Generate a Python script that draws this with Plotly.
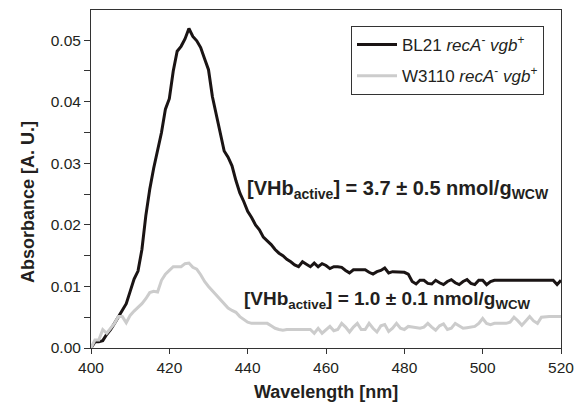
import plotly.graph_objects as go

wavelength = list(range(400, 521))

bl21 = [
    0.0000, 0.0010, 0.0010, 0.0012, 0.0022, 0.0030, 0.0040, 0.0051, 0.0060, 0.0072,  # 400-409
    0.0092, 0.0112, 0.0125, 0.0160, 0.0215, 0.0258, 0.0292, 0.0320, 0.0350, 0.0388,  # 410-419
    0.0405, 0.0450, 0.0482, 0.0490, 0.0502, 0.0519, 0.0506, 0.0499, 0.0488, 0.0470,  # 420-429
    0.0452, 0.0408, 0.0380, 0.0352, 0.0320, 0.0310, 0.0296, 0.0272, 0.0252, 0.0238,  # 430-439
    0.0222, 0.0212, 0.0200, 0.0192, 0.0180, 0.0174, 0.0168, 0.0160, 0.0154, 0.0150,  # 440-449
    0.0144, 0.0140, 0.0135, 0.0132, 0.0140, 0.0136, 0.0132, 0.0138, 0.0132, 0.0137,  # 450-459
    0.0134, 0.0129, 0.0132, 0.0132, 0.0131, 0.0126, 0.0122, 0.0127, 0.0127, 0.0127,  # 460-469
    0.0127, 0.0123, 0.0120, 0.0124, 0.0126, 0.0130, 0.0122, 0.0124, 0.0124, 0.0124,  # 470-479
    0.0123, 0.0120, 0.0108, 0.0104, 0.0110, 0.0110, 0.0105, 0.0104, 0.0110, 0.0106,  # 480-489
    0.0103, 0.0108, 0.0111, 0.0106, 0.0103, 0.0108, 0.0111, 0.0105, 0.0103, 0.0110,  # 490-499
    0.0110, 0.0103, 0.0108, 0.0110, 0.0110, 0.0110, 0.0110, 0.0110, 0.0110, 0.0110,  # 500-509
    0.0110, 0.0110, 0.0110, 0.0110, 0.0110, 0.0110, 0.0110, 0.0110, 0.0110, 0.0103,  # 510-519
    0.0110,                                                                          # 520
]

w3110 = [
    0.0000, 0.0013, 0.0013, 0.0030, 0.0024, 0.0032, 0.0040, 0.0051, 0.0051, 0.0041,  # 400-409
    0.0053, 0.0060, 0.0066, 0.0072, 0.0080, 0.0090, 0.0092, 0.0091, 0.0110, 0.0120,  # 410-419
    0.0126, 0.0132, 0.0132, 0.0132, 0.0137, 0.0138, 0.0131, 0.0128, 0.0119, 0.0108,  # 420-429
    0.0100, 0.0093, 0.0087, 0.0079, 0.0072, 0.0065, 0.0061, 0.0058, 0.0051, 0.0046,  # 430-439
    0.0042, 0.0040, 0.0040, 0.0040, 0.0040, 0.0040, 0.0036, 0.0032, 0.0030, 0.0029,  # 440-449
    0.0030, 0.0030, 0.0030, 0.0030, 0.0030, 0.0030, 0.0030, 0.0024, 0.0032, 0.0024,  # 450-459
    0.0030, 0.0035, 0.0028, 0.0030, 0.0040, 0.0034, 0.0026, 0.0034, 0.0040, 0.0030,  # 460-469
    0.0030, 0.0040, 0.0032, 0.0026, 0.0036, 0.0038, 0.0027, 0.0032, 0.0040, 0.0032,  # 470-479
    0.0030, 0.0035, 0.0034, 0.0033, 0.0032, 0.0034, 0.0040, 0.0034, 0.0029, 0.0036,  # 480-489
    0.0039, 0.0030, 0.0032, 0.0040, 0.0036, 0.0032, 0.0033, 0.0034, 0.0035, 0.0040,  # 490-499
    0.0048, 0.0040, 0.0038, 0.0040, 0.0040, 0.0040, 0.0040, 0.0042, 0.0050, 0.0044,  # 500-509
    0.0037, 0.0044, 0.0051, 0.0044, 0.0040, 0.0050, 0.0051, 0.0051, 0.0051, 0.0051,  # 510-519
    0.0051,                                                                          # 520
]

series_names = [
    "BL21 <i>recA</i><sup>-</sup> <i>vgb</i><sup>+</sup>",
    "W3110 <i>recA</i><sup>-</sup> <i>vgb</i><sup>+</sup>",
]
annot_texts = [
    "<b>[VHb<sub>active</sub>] = 3.7 ± 0.5 nmol/g<sub>WCW</sub></b>",
    "<b>[VHb<sub>active</sub>] = 1.0 ± 0.1 nmol/g<sub>WCW</sub></b>",
]
annot_pos = [(478.3, 0.0258), (475.8, 0.0078)]
annot_sizes = [20, 19]

x_ticks = [400, 420, 440, 460, 480, 500, 520]
y_ticks = [0.00, 0.01, 0.02, 0.03, 0.04, 0.05]
y_right_ticks = [0.005, 0.015, 0.025, 0.035, 0.045]

FONT = "Liberation Sans, Arial, Helvetica, sans-serif"
TXT = "#231f20"
AX = "#333333"

L, R, T, B = 91, 13, 10, 66
W, H = 574, 414
pw, ph = W - L - R, H - T - B


def px_x(x):
    return (x - L) / pw


def px_y(y):
    return (H - B - y) / ph


fig = go.Figure()
fig.add_trace(go.Scatter(x=wavelength, y=bl21, mode="lines", name=series_names[0],
                         legendgroup="a", line=dict(color="#1a1414", width=3)))
fig.add_trace(go.Scatter(x=wavelength, y=w3110, mode="lines", name=series_names[1],
                         legendgroup="b", line=dict(color="#cccccc", width=3)))

for (ax, ay), t, s in zip(annot_pos, annot_texts, annot_sizes):
    fig.add_annotation(x=ax, y=ay, text=t, showarrow=False, xref="x", yref="y",
                       xanchor="center", yanchor="middle",
                       font=dict(family=FONT, size=s, color=TXT))

# axis titles
fig.add_annotation(x=px_x(326), y=px_y(392), xref="paper", yref="paper",
                   text="<b>Wavelength [nm]</b>", xanchor="center", yanchor="middle",
                   showarrow=False, font=dict(family=FONT, size=18, color=TXT))
fig.add_annotation(x=px_x(28), y=px_y(202), xref="paper", yref="paper",
                   text="<b>Absorbance [A. U.]</b>", xanchor="center", yanchor="middle",
                   showarrow=False, textangle=-90, font=dict(family=FONT, size=18, color=TXT))

fig.update_layout(
    width=W, height=H,
    margin=dict(l=L, r=R, t=T, b=B, autoexpand=False),
    paper_bgcolor="white", plot_bgcolor="white",
    font=dict(family=FONT, color=TXT, size=15),
    showlegend=True,
    legend=dict(x=px_x(351), y=px_y(26), xanchor="left", yanchor="top",
                bordercolor=AX, borderwidth=1, bgcolor="white",
                font=dict(family=FONT, size=17, color=TXT),
                itemwidth=40, tracegroupgap=6),
    xaxis=dict(range=[400, 520], tickvals=x_ticks, ticks="outside", ticklen=5,
               tickcolor=AX, showline=True, linecolor=AX, linewidth=1,
               mirror=True, showgrid=False, zeroline=False, automargin=False,
               ticklabeloverflow="allow", tickfont=dict(size=15.5)),
    xaxis2=dict(range=[400, 520], tickvals=x_ticks, ticks="inside", ticklen=5,
                tickcolor=AX, overlaying="x", side="bottom", anchor="y", automargin=False,
                showticklabels=False, showgrid=False, zeroline=False, showline=False),
    yaxis=dict(range=[0, 0.0549], tickvals=y_ticks, tickformat=".2f", ticks="outside",
               ticklen=6, tickcolor=AX, showline=True, linecolor=AX,
               linewidth=1, mirror=True, showgrid=False, zeroline=False, automargin=False,
               tickfont=dict(size=15.5),
               minor=dict(dtick=0.005, ticks="outside", ticklen=6, tickcolor=AX)),
    yaxis2=dict(range=[0, 0.0549], tickvals=y_right_ticks, ticks="inside", ticklen=5,
                tickcolor=AX, overlaying="y", side="right", anchor="x", automargin=False,
                showticklabels=False, showgrid=False, zeroline=False, showline=False),
)

fig.write_html("out.html", config={"displayModeBar": False},
               post_script="document.body.style.margin='0';document.body.style.padding='0';")
